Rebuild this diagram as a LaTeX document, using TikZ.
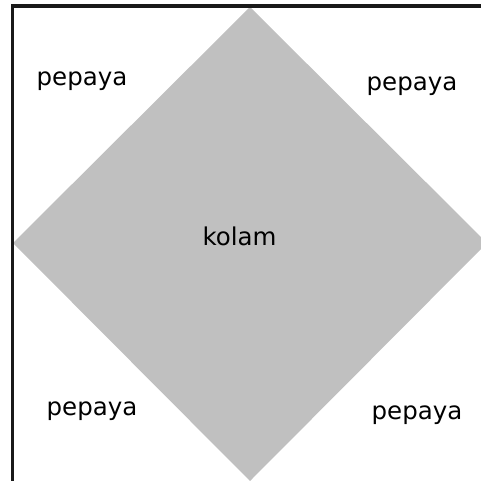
\documentclass[tikz,border=0pt]{standalone}
\usepackage{fontspec}
\setmainfont{DejaVu Sans}
\begin{document}
\begin{tikzpicture}[x=1pt,y=-1pt,
  lbl/.style={anchor=base,inner sep=0pt,font=\fontsize{24.5}{29}\selectfont},
  frame/.style={line width=3.2pt,draw=black!90}]
\useasboundingbox (0,0) rectangle (481,481);
\begin{scope}
\clip (0,0) rectangle (481,481);
\fill[fill={rgb,255:red,192;green,192;blue,192}] (250,7) -- (13,243) -- (250,481) -- (487,243) -- cycle;
\end{scope}
\draw[frame] (12.5,481) -- (12.5,6) -- (481,6);
\node[lbl] (k) at (239.5,245) {kolam};
\node[lbl] (p1) at (82,86) {pepaya};
\node[lbl] (p2) at (412,91) {pepaya};
\node[lbl] (p3) at (92,415) {pepaya};
\node[lbl] (p4) at (417,419) {pepaya};
\end{tikzpicture}
\end{document}
